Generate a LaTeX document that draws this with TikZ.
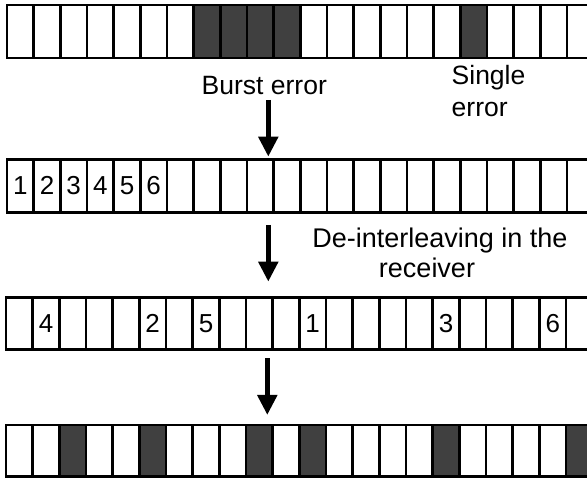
\documentclass[tikz,border=0pt]{standalone}
\usepackage{fontspec}
\setmainfont{Liberation Sans}
\usetikzlibrary{arrows.meta}
\newcommand\rowtwolabel[1]{\ifnum#1<6 \the\numexpr#1+1\relax\fi}
\newcommand\rowthreelabel[1]{\ifcase#1 \or4\or\or\or\or2\or\or5\or\or\or\or1\or\or\or\or\or3\or\or\or\or6\fi}
\begin{document}
\begin{tikzpicture}[x=1pt,y=1pt,
  cell/.style={draw=black, line width=2.8pt, minimum width=26.67pt, minimum height=53pt,
    inner sep=0pt, outer sep=0pt, font=\fontsize{26}{30}\selectfont},
  lbl/.style={inner sep=0pt, font=\fontsize{26.5}{32}\selectfont},
  flow/.style={line width=5pt, -{Triangle[width=19pt,length=20pt]}}]
\useasboundingbox (0,0) rectangle (587,478);
\clip (0,0) rectangle (587,478);
% row 1: received with errors
\foreach \i in {0,...,21}{
  \pgfmathparse{((\i>6 && \i<11) || \i==17) ? "black!75" : "white"}
  \let\cf\pgfmathresult
  \node[cell, fill=\cf] (a\i) at ({7+(\i+0.5)*26.67}, 446.5) {};
}
% row 2: interleaved order
\foreach \i in {0,...,21}{
  \node[cell, fill=white] (b\i) at ({7+(\i+0.5)*26.67}, 292.2) {\rowtwolabel{\i}};
}
% row 3: de-interleaved
\foreach \i in {0,...,21}{
  \node[cell, fill=white, minimum height=52pt] (c\i) at ({6+(\i+0.5)*26.67}, 154.7) {\rowthreelabel{\i}};
}
% row 4: spread errors
\foreach \i in {0,...,21}{
  \pgfmathparse{(\i==2 || \i==5 || \i==9 || \i==11 || \i==16 || \i==21) ? "black!75" : "white"}
  \let\cf\pgfmathresult
  \node[cell, fill=\cf, minimum height=51.7pt] (d\i) at ({6+(\i+0.5)*26.67}, 27.2) {};
}
% labels
\node[lbl, anchor=base west] (burst) at (201.5, 383.7) {Burst error};
\node[lbl, anchor=base west, align=left] (single) at (451.5, 361.3) {Single\\error};
\node[lbl, anchor=base, align=center, font=\fontsize{27}{30}\selectfont] (deint) at (440, 200)
  {De-interleaving in the\\receiver\hspace*{26pt}};
% arrows
\coordinate (s1) at (268.3, 378);
\coordinate (e1) at (268.3, 321.3);
\coordinate (s2) at (268.3, 253);
\coordinate (e2) at (268.3, 196.3);
\coordinate (s3) at (267.3, 119.7);
\coordinate (e3) at (267.3, 63);
\draw[flow] (s1) -- (e1);
\draw[flow] (s2) -- (e2);
\draw[flow] (s3) -- (e3);
\end{tikzpicture}
\end{document}
